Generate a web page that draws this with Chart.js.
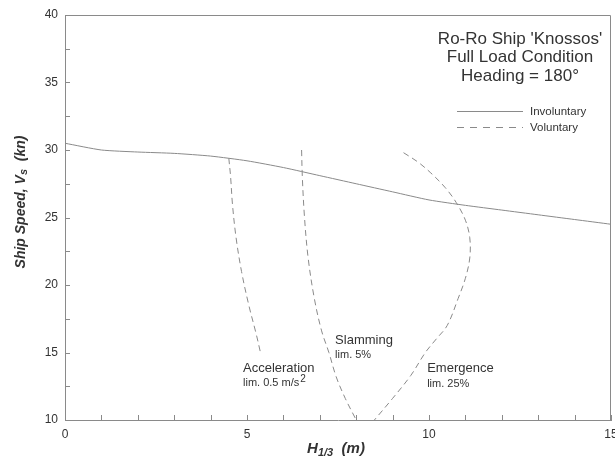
<!DOCTYPE html>
<html>
<head>
<meta charset="utf-8">
<script src="https://cdn.jsdelivr.net/npm/chart.js@4.4.1/dist/chart.umd.min.js"></script>
<style>
    html, body { margin: 0; padding: 0; background: #fff; }
    #wrap { position: relative; width: 615px; height: 462px; }
</style>
</head>
<body>
<div id="wrap"><canvas id="seakeepingChart" width="615" height="462"></canvas></div>
<script>
// H1/3 (m) vs ship speed (kn)
const involuntaryH = [0, 1, 2, 3, 4, 5, 6, 7, 8, 9, 10, 11, 12, 13, 14, 15];
const involuntaryV = [30.5, 30.0, 29.85, 29.75, 29.55, 29.2, 28.7, 28.1, 27.5, 26.9, 26.3, 25.9, 25.55, 25.2, 24.85, 24.5];

const accelerationH = [4.5, 4.55, 4.6, 4.7, 4.85, 5.05, 5.25, 5.37];
const accelerationV = [29.4, 28.0, 26.0, 23.5, 21.0, 18.5, 16.4, 15.0];

const slammingH = [6.5, 6.52, 6.58, 6.68, 6.85, 7.05, 7.25, 7.45, 7.7, 8.0];
const slammingV = [30.0, 28.0, 25.0, 22.0, 19.0, 16.6, 15.0, 13.2, 11.6, 10.0];

const emergenceH = [9.3, 9.7, 10.05, 10.45, 10.75, 11.0, 11.12, 11.12, 11.0, 10.8, 10.5, 10.2, 9.9, 9.5, 9.0, 8.5];
const emergenceV = [29.8, 29.1, 28.3, 27.2, 26.1, 24.8, 23.5, 22.0, 20.5, 19.0, 17.0, 16.0, 15.0, 13.3, 11.6, 10.0];

const xTicks = [0, 5, 10, 15];
const yTicks = [10, 15, 20, 25, 30, 35, 40];

const titleLines = ["Ro-Ro Ship 'Knossos'", 'Full Load Condition', 'Heading = 180°'];
const legendLabels = ['Involuntary', 'Voluntary'];

// limit labels: [name, limit text, superscript, H, V]
const limitLabels = [
    ['Acceleration', 'lim. 0.5 m/s', '2', 4.89, 13.85],
    ['Slamming', 'lim. 5%', '', 7.42, 15.9],
    ['Emergence', 'lim. 25%', '', 9.95, 13.8]
];

const lineColor = '#8a8a8a';
const textColor = '#333';
const fontFamily = '"Liberation Sans", Arial, sans-serif';

function toPoints(xs, ys) {
    return xs.map((x, i) => ({ x: x, y: ys[i] }));
}

function curve(xs, ys, dashed) {
    return {
        data: toPoints(xs, ys),
        showLine: true,
        borderColor: lineColor,
        borderWidth: 1,
        borderDash: dashed ? [6, 4] : [],
        pointRadius: 0,
        tension: dashed ? 0.35 : 0.2,
        fill: false
    };
}

const decorations = {
    id: 'decorations',
    afterDraw(chart) {
        const { ctx, chartArea: a, scales: { x, y } } = chart;
        ctx.save();
        ctx.strokeStyle = lineColor;
        ctx.lineWidth = 1;

        // frame
        ctx.beginPath();
        ctx.moveTo(a.left + 0.5, a.top + 0.5);
        ctx.lineTo(a.right - 0.5, a.top + 0.5);
        ctx.lineTo(a.right - 0.5, a.bottom);
        ctx.stroke();

        // inside ticks
        ctx.beginPath();
        for (let v = 0; v <= 15; v += 1) {
            const px = Math.round(x.getPixelForValue(v)) + 0.5;
            ctx.moveTo(px, a.bottom);
            ctx.lineTo(px, a.bottom - 5);
        }
        for (let v = 10; v <= 40; v += 2.5) {
            const py = Math.round(y.getPixelForValue(v)) + 0.5;
            ctx.moveTo(a.left, py);
            ctx.lineTo(a.left + 5, py);
        }
        ctx.stroke();

        // title block
        ctx.fillStyle = textColor;
        ctx.textAlign = 'center';
        ctx.textBaseline = 'middle';
        ctx.font = '17px ' + fontFamily;
        titleLines.forEach((t, i) => ctx.fillText(t, 520, 39 + i * 18.5));

        // legend
        ctx.font = '11.5px ' + fontFamily;
        ctx.textAlign = 'left';
        legendLabels.forEach((t, i) => {
            const ly = 111.5 + i * 16;
            ctx.setLineDash(i === 0 ? [] : [7, 6]);
            ctx.beginPath();
            ctx.moveTo(457, ly);
            ctx.lineTo(523, ly);
            ctx.stroke();
            ctx.fillText(t, 530, ly);
        });
        ctx.setLineDash([]);

        // limit labels
        limitLabels.forEach(([name, lim, sup, h, v]) => {
            const px = x.getPixelForValue(h);
            const py = y.getPixelForValue(v);
            ctx.font = '13px ' + fontFamily;
            ctx.fillText(name, px, py);
            ctx.font = '11px ' + fontFamily;
            ctx.fillText(lim, px, py + 15);
            if (sup) {
                const w = ctx.measureText(lim).width;
                ctx.font = '10px ' + fontFamily;
                ctx.fillText(sup, px + w + 1, py + 11);
            }
        });

        // axis titles with subscripts
        const big = 'bold italic 15px ' + fontFamily;
        const small = 'bold italic 11px ' + fontFamily;

        ctx.font = big;
        const hW = ctx.measureText('H').width;
        ctx.font = small;
        const subW = ctx.measureText('1/3').width;
        ctx.font = big;
        const mW = ctx.measureText('  (m)').width;
        const tx = 336 - (hW + subW + mW) / 2;
        const ty = 449;
        ctx.fillText('H', tx, ty);
        ctx.font = small;
        ctx.fillText('1/3', tx + hW, ty + 4);
        ctx.font = big;
        ctx.fillText('  (m)', tx + hW + subW, ty);

        const yBig = 'bold italic 14px ' + fontFamily;
        const ySmall = 'bold italic 11px ' + fontFamily;
        ctx.translate(21, 202);
        ctx.rotate(-Math.PI / 2);
        const p1 = 'Ship Speed, V';
        const p2 = '  (kn)';
        ctx.font = yBig;
        const w1 = ctx.measureText(p1).width;
        const w3 = ctx.measureText(p2).width;
        ctx.font = ySmall;
        const w2 = ctx.measureText('s').width;
        const sx = -(w1 + w2 + w3) / 2;
        ctx.font = yBig;
        ctx.fillText(p1, sx, 0);
        ctx.font = ySmall;
        ctx.fillText('s', sx + w1, 3);
        ctx.font = yBig;
        ctx.fillText(p2, sx + w1 + w2, 0);

        ctx.restore();
    }
};

new Chart(document.getElementById('seakeepingChart'), {
    type: 'scatter',
    data: {
        datasets: [
            curve(involuntaryH, involuntaryV, false),
            curve(accelerationH, accelerationV, true),
            curve(slammingH, slammingV, true),
            curve(emergenceH, emergenceV, true)
        ]
    },
    options: {
        responsive: false,
        animation: false,
        devicePixelRatio: 1,
        layout: { padding: { top: 15, right: 4, left: 0, bottom: 0 } },
        plugins: {
            legend: { display: false },
            tooltip: { enabled: false }
        },
        scales: {
            x: {
                type: 'linear',
                min: 0,
                max: 15,
                afterBuildTicks: (scale) => { scale.ticks = xTicks.map((v) => ({ value: v })); },
                afterFit: (scale) => {
                    scale.height = 42;
                    scale.paddingLeft = 0;
                    scale.paddingRight = 0;
                },
                ticks: { color: textColor, padding: 7, autoSkip: false, maxRotation: 0, font: { family: fontFamily, size: 12 } },
                grid: { drawOnChartArea: false, drawTicks: false },
                border: { color: lineColor, width: 1 }
            },
            y: {
                type: 'linear',
                min: 10,
                max: 40,
                afterBuildTicks: (scale) => { scale.ticks = yTicks.map((v) => ({ value: v })); },
                afterFit: (scale) => {
                    scale.width = 65;
                    scale.paddingTop = 0;
                    scale.paddingBottom = 0;
                },
                ticks: { color: textColor, padding: 7, autoSkip: false, font: { family: fontFamily, size: 12 } },
                grid: { drawOnChartArea: false, drawTicks: false },
                border: { color: lineColor, width: 1 }
            }
        }
    },
    plugins: [decorations]
});
</script>
</body>
</html>
